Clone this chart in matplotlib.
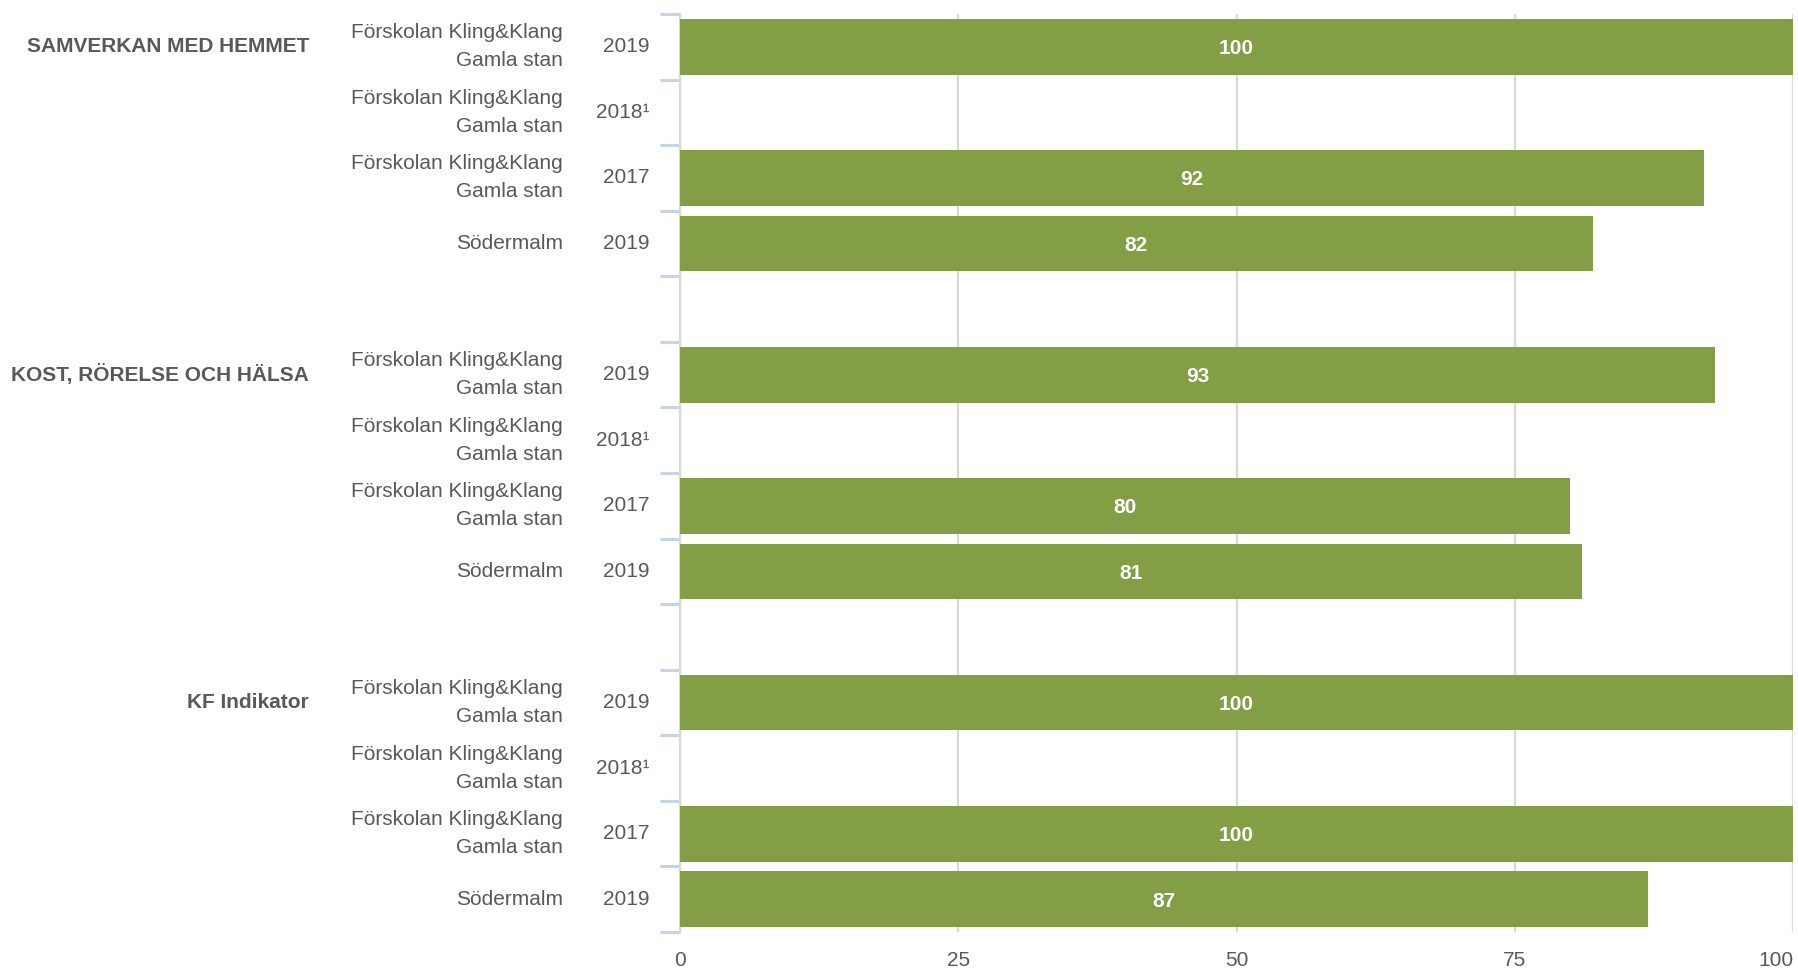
import matplotlib
matplotlib.use('Agg')
import matplotlib.pyplot as plt
import matplotlib.transforms as mtransforms

plt.rcParams['font.family'] = ['Liberation Sans', 'DejaVu Sans']

groups = ['SAMVERKAN MED HEMMET', 'KOST, RÖRELSE OCH HÄLSA', 'KF Indikator']
units = ['Förskolan Kling&Klang\nGamla stan', 'Förskolan Kling&Klang\nGamla stan',
         'Förskolan Kling&Klang\nGamla stan', 'Södermalm']
years = ['2019', '2018¹', '2017', '2019']
samverkan = [100, None, 92, 82]
kost = [93, None, 80, 81]
kf = [100, None, 100, 87]
all_values = [samverkan, kost, kf]

green = '#839e45'
grey_text = '#595959'

fig = plt.figure(figsize=(17.99, 9.73), dpi=100)
ax = fig.add_axes([0.378, 0.0421, 0.6187, 0.9435])

# one blank slot between groups
trans = mtransforms.blended_transform_factory(fig.transFigure, ax.transData)
pos = 0
for g in range(len(groups)):
    for i in range(len(years)):
        v = all_values[g][i]
        if v is not None:
            ax.barh(pos, v, height=0.85, color=green, zorder=3)
            ax.text(v / 2, pos + 0.03, str(v), color='white', fontsize=15, fontweight='bold',
                    ha='center', va='center', zorder=4)
        ax.text(0.3608, pos, years[i], transform=trans, ha='right', va='center',
                fontsize=15, color=grey_text)
        ax.text(0.313, pos, units[i], transform=trans, ha='right', va='center',
                multialignment='right', linespacing=1.6, fontsize=15, color=grey_text)
        if i == 0:
            ax.text(0.1718, pos, groups[g], transform=trans, ha='right', va='center',
                    fontsize=15, fontweight='bold', color=grey_text)
        pos += 1
    pos += 1

n_slots = pos - 1
ax.set_ylim(n_slots - 0.5, -0.5)
ax.set_xlim(0, 100)

ax.set_yticks([])
ax.set_yticks([k - 0.5 for k in range(n_slots + 1)], minor=True)
ax.tick_params(axis='y', which='minor', length=14.5, width=2.2, color='#c9d3e6')

ax.set_xticks([0, 25, 50, 75, 100])
ax.set_xticklabels(['0', '25', '50', '75', '100'])
ax.get_xticklabels()[-1].set_ha('right')
ax.tick_params(axis='x', length=0, labelsize=15, labelcolor=grey_text, pad=14)

ax.grid(axis='x', color='#d9d9d9', linewidth=1.6, zorder=0)
for side in ['top', 'right', 'bottom']:
    ax.spines[side].set_visible(False)
ax.spines['left'].set_color('#d9d9d9')
ax.spines['left'].set_linewidth(1.6)

fig.savefig('out.png', dpi=100)
